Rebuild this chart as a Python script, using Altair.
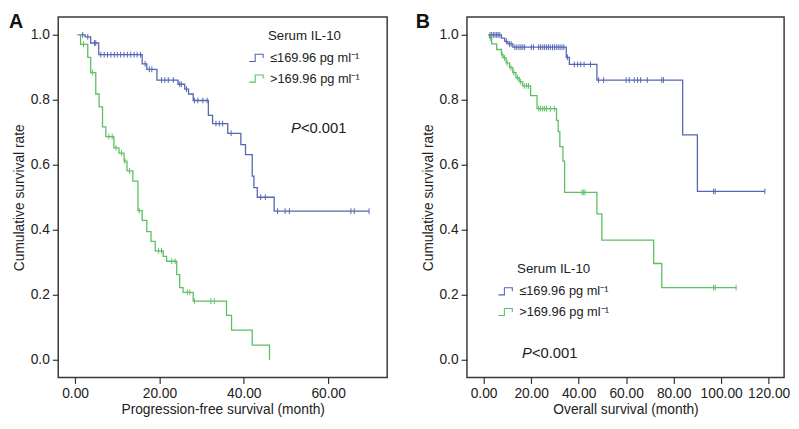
import altair as alt
import pandas as pd

# ---------------- data ----------------
LAB_LE = "≤169.96 pg ml⁻¹"
LAB_GT = ">169.96 pg ml⁻¹"
BLUE = "#5566b3"
GREEN = "#5cbf63"

# Panel A: progression-free survival
a_blue_t = [1.0, 2.4, 3.7, 5.6, 15.9, 17.0, 19.4, 24.4, 26.0, 26.9, 28.0, 31.6, 32.6, 36.2,
            39.3, 40.4, 42.0, 42.4, 43.2, 47.2, 69.7]
a_blue_s = [1.0, 0.994, 0.975, 0.939, 0.911, 0.894, 0.861, 0.848, 0.833, 0.818, 0.798, 0.752,
            0.727, 0.697, 0.662, 0.631, 0.565, 0.530, 0.500, 0.457, 0.457]
a_blue_c = [1.8, 3.0, 4.6, 4.9, 6.1, 6.9, 7.7, 8.5, 9.3, 10.0, 10.8, 11.6, 12.4, 13.2, 14.0,
            14.7, 15.5, 16.6, 17.6, 18.2, 20.5, 21.3, 22.1, 23.3, 24.8, 25.2, 26.4, 28.3, 29.1,
            30.3, 31.3, 33.4, 34.2, 35.0, 37.0, 44.0, 45.1, 48.0, 49.8, 50.8, 65.4, 66.2, 69.7]

a_green_t = [0.5, 1.3, 3.0, 3.7, 4.9, 5.7, 6.5, 7.3, 9.2, 10.4, 11.6, 12.3, 13.7, 14.9, 15.9,
             17.0, 18.0, 19.0, 20.9, 21.7, 24.1, 24.8, 25.6, 28.0, 35.9, 37.1, 42.0, 46.1]
a_green_s = [1.0, 0.971, 0.931, 0.884, 0.818, 0.778, 0.717, 0.687, 0.652, 0.636, 0.611, 0.581,
             0.550, 0.459, 0.429, 0.394, 0.364, 0.335, 0.318, 0.303, 0.262, 0.222, 0.207, 0.180,
             0.136, 0.091, 0.045, 0.0]
a_green_c = [2.0, 4.1, 8.0, 8.8, 9.7, 11.0, 11.8, 12.9, 15.2, 19.8, 20.5, 22.9, 23.7, 26.6,
             27.2, 28.3, 32.2, 33.0]

# Panel B: overall survival
b_blue_t = [2.0, 7.5, 8.9, 10.2, 12.3, 34.8, 36.1, 47.7, 83.8, 90.0, 118.4]
b_blue_s = [1.0, 0.990, 0.980, 0.972, 0.962, 0.931, 0.909, 0.861, 0.692, 0.518, 0.518]
b_blue_c = [2.7, 3.4, 4.1, 4.8, 5.5, 6.1, 6.8, 9.6, 10.9, 11.6, 13.2, 14.0, 14.9, 15.7, 16.5,
            17.3, 20.1, 21.0, 23.2, 24.0, 24.9, 25.7, 26.5, 27.3, 28.1, 29.0, 29.8, 30.6, 31.4,
            32.2, 33.0, 33.8, 35.3, 38.2, 39.6, 40.9, 42.3, 45.0, 48.4, 50.5, 60.0, 61.3, 63.4,
            64.8, 66.1, 68.9, 75.0, 75.7, 96.8, 97.5, 118.4]

b_green_t = [2.0, 2.5, 3.4, 5.5, 7.5, 8.2, 9.5, 10.9, 12.3, 13.6, 15.0, 16.4, 19.8, 22.5, 30.7,
             31.4, 32.1, 33.4, 34.1, 47.7, 49.8, 71.6, 75.0, 106.3]
b_green_s = [1.0, 0.990, 0.972, 0.955, 0.939, 0.929, 0.914, 0.899, 0.884, 0.868, 0.856, 0.843,
             0.813, 0.773, 0.737, 0.702, 0.656, 0.611, 0.515, 0.449, 0.368, 0.296, 0.222, 0.222]
b_green_c = [3.0, 7.8, 8.8, 9.9, 11.5, 12.7, 14.3, 15.5, 17.1, 18.1, 18.9, 23.2, 24.0, 24.9,
             25.7, 26.5, 28.1, 29.8, 41.4, 42.1, 42.7, 96.8, 97.5, 106.3]

a_xticks = [0, 20, 40, 60]
b_xticks = [0, 20, 40, 60, 80, 100, 120]
y_ticks = [0.0, 0.2, 0.4, 0.6, 0.8, 1.0]


def step_value(ts, ss, t):
    v = ss[0]
    for ti, si in zip(ts, ss):
        if ti <= t:
            v = si
    return v


def curves_df(bt, bs, gt, gs):
    rows = [{"t": t, "s": s, "g": LAB_LE} for t, s in zip(bt, bs)]
    rows += [{"t": t, "s": s, "g": LAB_GT} for t, s in zip(gt, gs)]
    return pd.DataFrame(rows)


def cens_df(bt, bs, bc, gt, gs, gc):
    rows = [{"t": c, "s": step_value(bt, bs, c), "g": LAB_LE} for c in bc]
    rows += [{"t": c, "s": step_value(gt, gs, c), "g": LAB_GT} for c in gc]
    return pd.DataFrame(rows)


color_scale = alt.Scale(domain=[LAB_LE, LAB_GT], range=[BLUE, GREEN])
y_scale = alt.Scale(domain=[-0.055, 1.055], nice=False, zero=False)
LEGEND_ICON = "M-1,0.45L-0.25,0.45L-0.25,-0.45L0.75,-0.45L0.75,0"


def panel(cdf, kdf, xdom, xticks, xtitle, width, lx, ly, px, py, letter, letter_x):
    x_enc = alt.X("t:Q", scale=alt.Scale(domain=xdom, nice=False, zero=False),
                  axis=alt.Axis(values=xticks, format=".2f", title=xtitle))
    y_enc = alt.Y("s:Q", scale=y_scale,
                  axis=alt.Axis(values=y_ticks, format=".1f", title="Cumulative survival rate"))
    lines = alt.Chart(cdf).mark_line(interpolate="step-after", strokeWidth=1.3).encode(
        x=x_enc, y=y_enc,
        color=alt.Color("g:N", scale=color_scale,
                        legend=alt.Legend(title="Serum IL-10", orient="none", legendX=lx,
                                          legendY=ly, symbolType=LEGEND_ICON,
                                          symbolSize=260, symbolStrokeWidth=1.1,
                                          symbolFillColor="transparent",
                                          titleFontSize=13.5, titleFontWeight="normal",
                                          titleAnchor="middle", titlePadding=7,
                                          labelFontSize=13, labelOffset=4, rowPadding=5,
                                          titleColor="#222", labelColor="#222")),
    )
    marks = alt.Chart(kdf).mark_point(shape="M0,-1L0,1", filled=False, size=34,
                                      strokeWidth=1.0, opacity=1).encode(
        x="t:Q", y="s:Q", color=alt.Color("g:N", scale=color_scale, legend=None))
    pdf = pd.DataFrame({"x": [px], "y": [py], "a": ["P"], "b": ["<0.001"]})
    p1 = alt.Chart(pdf).mark_text(fontSize=15, fontStyle="italic", align="left",
                                  baseline="middle", color="#222").encode(
        x="x:Q", y="y:Q", text="a:N")
    p2 = alt.Chart(pdf).mark_text(fontSize=15, align="left", baseline="middle", dx=10,
                                  color="#222").encode(x="x:Q", y="y:Q", text="b:N")
    ldf = pd.DataFrame({"l": [letter]})
    lab = alt.Chart(ldf).mark_text(fontSize=20, fontWeight="bold", align="left",
                                   baseline="top", color="#111").encode(
        x=alt.value(letter_x), y=alt.value(-5), text="l:N")
    return alt.layer(lines, marks, p1, p2, lab).properties(width=width, height=366)


panel_a = panel(curves_df(a_blue_t, a_blue_s, a_green_t, a_green_s),
                cens_df(a_blue_t, a_blue_s, a_blue_c, a_green_t, a_green_s, a_green_c),
                [-4, 74], a_xticks, "Progression-free survival (month)", 334,
                193, 12, 51.2, 0.713, "A", -50)
panel_b = panel(curves_df(b_blue_t, b_blue_s, b_green_t, b_green_s),
                cens_df(b_blue_t, b_blue_s, b_blue_c, b_green_t, b_green_s, b_green_c),
                [-7, 126.5], b_xticks, "Overall survival (month)", 322,
                31, 249, 16.2, 0.019, "B", -52)

chart = alt.hconcat(panel_a, panel_b, spacing=27).resolve_scale(color="independent").properties(
    padding={"left": 0, "top": 0, "right": 0, "bottom": 0}
).configure(font="Liberation Sans").configure_view(
    stroke="#3a3a3a", strokeWidth=1.5
).configure_axis(
    domain=False, grid=False, tickColor="#333", tickSize=6, tickWidth=1.2,
    labelFontSize=14, labelColor="#222", labelPadding=3,
    titleFontSize=14, titleFontWeight="normal", titleColor="#222", titlePadding=4
).configure_axisX(titlePadding=3)

chart.save("out.html", embed_options={"renderer": "svg", "actions": False})
